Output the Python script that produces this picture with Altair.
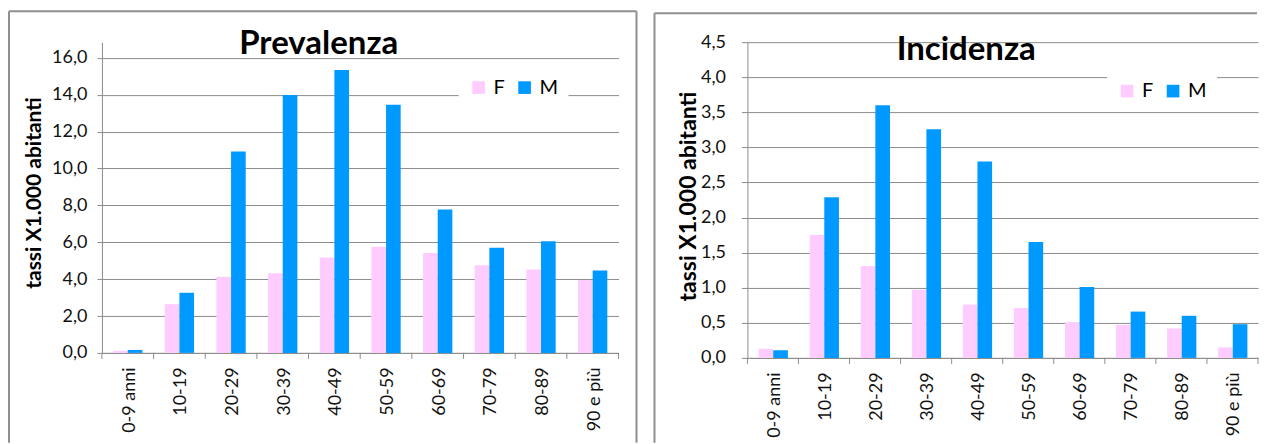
import altair as alt
import pandas as pd

categories = ["0-9 anni", "10-19", "20-29", "30-39", "40-49", "50-59",
              "60-69", "70-79", "80-89", "90 e più"]
sexes = ["F", "M"]
colors = ["#FFCCFF", "#0099FF"]

prev_f = [0.11, 2.64, 4.13, 4.32, 5.17, 5.76, 5.42, 4.75, 4.52, 3.95]
prev_m = [0.16, 3.26, 10.92, 13.99, 15.34, 13.45, 7.78, 5.70, 6.06, 4.47]
inc_f = [0.13, 1.75, 1.31, 0.97, 0.76, 0.71, 0.51, 0.47, 0.42, 0.15]
inc_m = [0.11, 2.29, 3.60, 3.26, 2.80, 1.65, 1.01, 0.66, 0.60, 0.48]

prev_ticks = [0, 2, 4, 6, 8, 10, 12, 14, 16]
inc_ticks = [0, 0.5, 1, 1.5, 2, 2.5, 3, 3.5, 4, 4.5]

prev_title = "Prevalenza"
inc_title = "Incidenza"
y_title = "tassi X1.000 abitanti"

FONT = "Lato"
GRID = "#8c8c8c"
BORDER = "#8f8f8f"
TXT = "#111111"


def long_df(f, m):
    rows = []
    for c, v in zip(categories, f):
        rows.append({"cat": c, "sex": "F", "val": v})
    for c, v in zip(categories, m):
        rows.append({"cat": c, "sex": "M", "val": v})
    return pd.DataFrame(rows)


def one():
    return pd.DataFrame({"k": [0]})


def rule(x, y, x2=None, y2=None, color=BORDER, sw=2):
    enc = dict(x=alt.value(x), y=alt.value(y))
    if x2 is not None:
        enc["x2"] = alt.value(x2)
    if y2 is not None:
        enc["y2"] = alt.value(y2)
    return alt.Chart(one()).mark_rule(color=color, strokeWidth=sw).encode(**enc)


def panel(df, title, ymax, ticks, W, H, tick_size, lab_pad, ytx, yty, yts,
          legx, legy, tx, ty, borders):
    bars = alt.Chart(df).mark_bar().encode(
        x=alt.X("cat:N", sort=categories, title=None,
                scale=alt.Scale(paddingInner=0, paddingOuter=0),
                axis=alt.Axis(labelAngle=270, ticks=False, tickSize=0,
                              labelPadding=14, labelOffset=2,
                              domainColor=GRID,
                              labelFont=FONT, labelFontSize=18,
                              labelColor=TXT, grid=False)),
        xOffset=alt.XOffset("sex:N", sort=sexes,
                            scale=alt.Scale(paddingInner=0, paddingOuter=0.765)),
        y=alt.Y("val:Q", title=y_title,
                scale=alt.Scale(domain=[0, ymax], nice=False),
                axis=alt.Axis(values=ticks,
                              labelExpr="replace(format(datum.value, '.1f'), '.', ',')",
                              grid=True, gridColor=GRID, domainColor=GRID,
                              tickColor=GRID, tickSize=tick_size,
                              labelPadding=lab_pad, labelFont=FONT,
                              labelFontSize=18, labelColor=TXT,
                              titleFont=FONT, titleFontSize=yts,
                              titleFontWeight="bold", titleColor="#000",
                              titleX=ytx, titleY=yty, titleAngle=270,
                              titleAlign="center", titleBaseline="middle")),
        color=alt.Color("sex:N", sort=sexes,
                        scale=alt.Scale(domain=sexes, range=colors),
                        legend=alt.Legend(title=None, orient="none",
                                          direction="horizontal",
                                          legendX=legx, legendY=legy,
                                          fillColor="white", padding=10,
                                          symbolType="square", symbolSize=160,
                                          symbolStrokeWidth=0,
                                          labelFont=FONT, labelFontSize=20,
                                          labelColor="#000", labelOffset=5,
                                          columnPadding=9)),
    )
    tk = alt.Chart(pd.DataFrame({"cat": categories})).mark_rule(
        color=GRID, strokeWidth=1).encode(
        x=alt.X("cat:N", sort=categories, bandPosition=0, title=None),
        y=alt.value(H), y2=alt.value(H + 6))
    tk_end = alt.Chart(pd.DataFrame({"cat": categories[-1:]})).mark_rule(
        color=GRID, strokeWidth=1).encode(
        x=alt.X("cat:N", sort=categories, bandPosition=1, title=None),
        y=alt.value(H), y2=alt.value(H + 6))
    ttl = alt.Chart(pd.DataFrame({"t": [title]})).mark_text(
        font=FONT, fontSize=33, fontWeight="bold", align="center",
        baseline="alphabetic", color="#000").encode(
        text="t:N", x=alt.value(tx), y=alt.value(ty))
    return alt.layer(bars, tk, tk_end, ttl, *borders).properties(width=W, height=H)


left = panel(long_df(prev_f, prev_m), prev_title, 16.85, prev_ticks, 517, 311,
             5, 10, -67.5, 150.5, 21, 357, 25.5, 217, 12.3,
             [rule(-93, -31, y2=401), rule(-93, -31, x2=535),
              rule(535, -31, y2=401)])

right = panel(long_df(inc_f, inc_m), inc_title, 4.5, inc_ticks, 511, 316,
              6, 16, -59, 154, 23, 360, 29, 219, 18,
              [rule(-93, -29, y2=401), rule(-93, -29, x2=510)])

chart = alt.hconcat(left, right, spacing=16).resolve_scale(
    color="independent", x="independent", y="independent"
).resolve_legend(color="independent").properties(
    padding={"top": 2, "left": 0, "right": 0, "bottom": 0},
    background="white",
).configure_view(stroke=None)

chart.save("out.html", embed_options={"renderer": "svg", "actions": False})
